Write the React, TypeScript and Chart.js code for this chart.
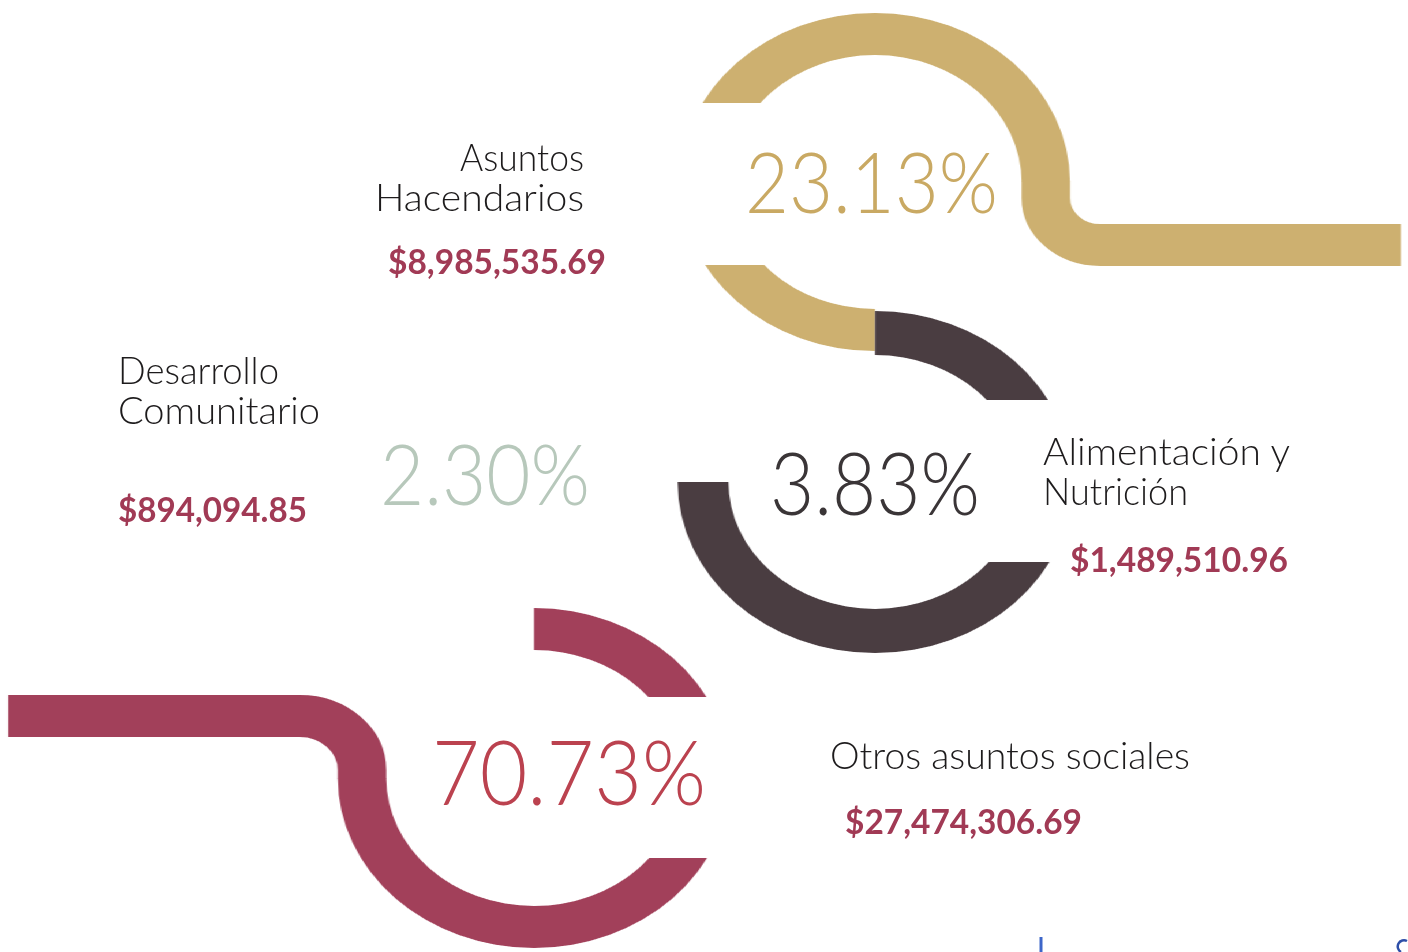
import React, { useEffect, useRef } from "react";
import { Chart, registerables } from "chart.js";

Chart.register(...registerables);

// ---------------- data ----------------
const categories = [
  "Asuntos Hacendarios",
  "Alimentación y Nutrición",
  "Desarrollo Comunitario",
  "Otros asuntos sociales",
];
const labelLines = [
  ["Asuntos", "Hacendarios"],
  ["Alimentación y", "Nutrición"],
  ["Desarrollo", "Comunitario"],
  ["Otros asuntos sociales"],
];
const percentages = [23.13, 3.83, 2.3, 70.73];
const amounts = [8985535.69, 1489510.96, 894094.85, 27474306.69];

// ---------------- colours ----------------
const ringColors = ["#cdb070", "#4a3d41", "#f3f5f2", "#a2405a"];
const percentColors = ["#c9a963", "#3a3537", "#b7c8bb", "#bb424f"];
const labelColor = "#1d1b1c";
const amountColor = "#a13a55";

// ---------------- layout (display px) ----------------
const W = 1408;
const H = 952;
const IW = 1220; // internal width of the ring layer, stretched horizontally to W
const S = W / IW;

type Tail = { dir: "left" | "right"; lineY: number; turn: number; endX: number };
type RingGeom = {
  cat: number;
  cx: number;
  cy: number;
  R: number;
  r: number;
  rotation: number;
  spans: number[];
  shown: boolean[];
  gapSide: "left" | "right";
  gapTop: number;
  gapBottom: number;
  tail?: Tail;
};

const rings: RingGeom[] = [
  {
    cat: 0, cx: 875, cy: 182, R: 169, r: 127, rotation: -90,
    spans: [180, 90, 90], shown: [true, false, true],
    gapSide: "left", gapTop: 103, gapBottom: 265,
    tail: { dir: "right", lineY: 245, turn: 47, endX: 1401 },
  },
  {
    cat: 1, cx: 875, cy: 482, R: 171, r: 127, rotation: 0,
    spans: [270, 90], shown: [true, false],
    gapSide: "right", gapTop: 400, gapBottom: 562,
  },
  {
    cat: 3, cx: 534, cy: 778, R: 170, r: 128, rotation: 0,
    spans: [270, 90], shown: [true, false],
    gapSide: "right", gapTop: 697, gapBottom: 858,
    tail: { dir: "left", lineY: 716, turn: 54, endX: 8 },
  },
];

const labelPos = [
  [{ x: 460, y: 171, w: 124 }, { x: 375, y: 211, w: 209 }],
  [{ x: 1043, y: 465, w: 247 }, { x: 1043, y: 505, w: 145 }],
  [{ x: 118, y: 384, w: 161 }, { x: 118, y: 424, w: 202 }],
  [{ x: 830, y: 769, w: 360 }],
];
const amountPos = [
  { x: 388, y: 274, w: 218 },
  { x: 1070, y: 572, w: 218 },
  { x: 118, y: 522, w: 189 },
  { x: 845, y: 834, w: 237 },
];
const percentPos = [
  { x: 745, y: 213, w: 253, size: 84 },
  { x: 770, y: 515, w: 210, size: 86 },
  { x: 380, y: 505, w: 210, size: 84 },
  { x: 432, y: 805, w: 274, size: 90 },
];

const fmtMoney = (v: number) =>
  "$" + v.toLocaleString("en-US", { minimumFractionDigits: 2, maximumFractionDigits: 2 });
const fmtPct = (v: number) => v.toFixed(2) + "%";

function RingChart({ ring }: { ring: RingGeom }) {
  const ref = useRef<HTMLCanvasElement>(null);
  useEffect(() => {
    const canvas = ref.current;
    if (!canvas) return;
    const cxI = ring.cx / S;
    const color = ringColors[ring.cat];
    const padding = {
      left: cxI - ring.R,
      right: IW - (cxI + ring.R),
      top: ring.cy - ring.R,
      bottom: H - (ring.cy + ring.R),
    };
    const shapePlugin = {
      id: "ringShape",
      beforeDatasetsDraw(chart: any) {
        const ctx = chart.ctx;
        const arc = chart.getDatasetMeta(0).data[0] as any;
        ctx.save();
        ctx.beginPath();
        ctx.rect(0, 0, chart.width, chart.height);
        if (ring.gapSide === "left") {
          ctx.rect(0, ring.gapTop, arc.x, ring.gapBottom - ring.gapTop);
        } else {
          ctx.rect(arc.x, ring.gapTop, chart.width - arc.x, ring.gapBottom - ring.gapTop);
        }
        ctx.clip("evenodd");
      },
      afterDatasetsDraw(chart: any) {
        const ctx = chart.ctx;
        ctx.restore();
        if (!ring.tail) return;
        const arc = chart.getDatasetMeta(0).data[0] as any;
        const mid = (arc.innerRadius + arc.outerRadius) / 2;
        const lw = arc.outerRadius - arc.innerRadius;
        const t = ring.tail;
        ctx.save();
        ctx.strokeStyle = color;
        ctx.lineWidth = lw;
        ctx.lineCap = "butt";
        ctx.lineJoin = "round";
        ctx.beginPath();
        if (t.dir === "right") {
          const x0 = arc.x + mid;
          ctx.moveTo(x0, arc.y - 0.5);
          ctx.lineTo(x0, t.lineY - t.turn);
          ctx.arc(x0 + t.turn, t.lineY - t.turn, t.turn, Math.PI, Math.PI / 2, true);
          ctx.lineTo(t.endX / S, t.lineY);
        } else {
          const x0 = arc.x - mid;
          ctx.moveTo(x0, arc.y + 0.5);
          ctx.lineTo(x0, t.lineY + t.turn);
          ctx.arc(x0 - t.turn, t.lineY + t.turn, t.turn, 0, -Math.PI / 2, true);
          ctx.lineTo(t.endX / S, t.lineY);
        }
        ctx.stroke();
        ctx.restore();
      },
    };
    const chart = new Chart(canvas, {
      type: "doughnut",
      data: {
        labels: ring.spans.map((_, i) => (ring.shown[i] ? categories[ring.cat] : "")),
        datasets: [
          {
            label: categories[ring.cat],
            data: ring.spans,
            backgroundColor: ring.shown.map((s) => (s ? color : "rgba(0,0,0,0)")),
            borderWidth: 0,
            hoverOffset: 0,
          },
        ],
      },
      options: {
        responsive: false,
        animation: false,
        events: [],
        rotation: ring.rotation,
        circumference: 360,
        cutout: ring.r,
        layout: { padding },
        plugins: { legend: { display: false }, tooltip: { enabled: false } },
      } as any,
      plugins: [shapePlugin],
    });
    return () => chart.destroy();
  }, [ring]);
  return (
    <canvas
      ref={ref}
      width={IW}
      height={H}
      style={{ position: "absolute", left: 0, top: 0 }}
    />
  );
}

export default function App() {
  const font = 'Lato, "Noto Sans", "DejaVu Sans", sans-serif';
  return (
    <div
      style={{
        position: "absolute",
        left: 0,
        top: 0,
        width: W,
        height: H,
        overflow: "hidden",
        background: "#ffffff",
      }}
    >
      <div
        style={{
          position: "absolute",
          left: 0,
          top: 0,
          width: IW,
          height: H,
          transform: `scaleX(${S})`,
          transformOrigin: "0 0",
        }}
      >
        {rings.map((ring, i) => (
          <RingChart key={i} ring={ring} />
        ))}
      </div>
      <svg
        width={W}
        height={H}
        style={{ position: "absolute", left: 0, top: 0 }}
        fontFamily={font}
      >
        {labelLines.map((lines, c) =>
          lines.map((line, j) => (
            <text
              key={`l${c}-${j}`}
              x={labelPos[c][j].x}
              y={labelPos[c][j].y}
              textLength={labelPos[c][j].w}
              lengthAdjust="spacingAndGlyphs"
              fontSize={38}
              fontWeight={300}
              fill={labelColor}
            >
              {line}
            </text>
          ))
        )}
        {amounts.map((v, c) => (
          <text
            key={`a${c}`}
            x={amountPos[c].x}
            y={amountPos[c].y}
            textLength={amountPos[c].w}
            lengthAdjust="spacingAndGlyphs"
            fontSize={34}
            fontWeight={700}
            fill={amountColor}
          >
            {fmtMoney(v)}
          </text>
        ))}
        {percentages.map((v, c) => (
          <text
            key={`p${c}`}
            x={percentPos[c].x}
            y={percentPos[c].y}
            textLength={percentPos[c].w}
            lengthAdjust="spacingAndGlyphs"
            fontSize={percentPos[c].size}
            fontWeight={300}
            fill={percentColors[c]}
          >
            {fmtPct(v)}
          </text>
        ))}
        <line x1={1041} y1={937} x2={1041} y2={952} stroke="#3d66c9" strokeWidth={3} />
        <path d="M 1407 941 A 6 6 0 0 0 1401 952" fill="none" stroke="#2e4fa8" strokeWidth={2.5} />
      </svg>
    </div>
  );
}
